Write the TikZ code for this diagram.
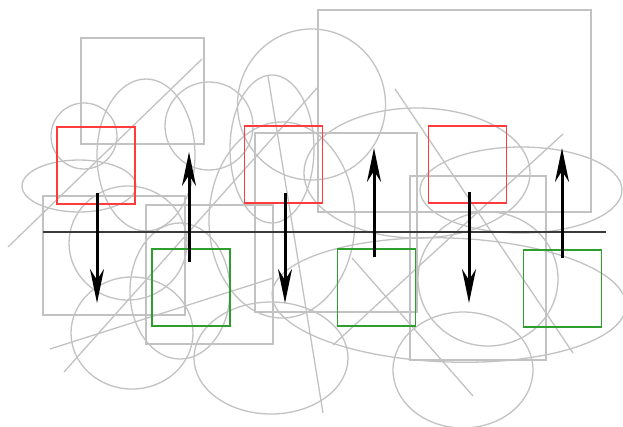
\documentclass[tikz,border=0pt]{standalone}
\usetikzlibrary{arrows.meta}
\definecolor{scribble}{HTML}{C2C2C2}
\definecolor{boxred}{HTML}{FF3B3B}
\definecolor{boxgreen}{HTML}{2E9E2E}
\definecolor{axisgray}{HTML}{3A3A3A}
\begin{document}
\begin{tikzpicture}[x=1pt,y=-1pt,
  bg/.style={draw=scribble, line width=1.3pt},
  topbox/.style={draw=boxred, line width=1.5pt, minimum width=78pt, minimum height=77pt, inner sep=0pt},
  botbox/.style={draw=boxgreen, line width=1.5pt, minimum width=78pt, minimum height=77pt, inner sep=0pt},
  flow/.style={line width=3pt, -{Stealth[length=34pt,width=14pt,inset=11pt]}},
  axisline/.style={draw=axisgray, line width=1.4pt}]
\fill[white] (0,0) rectangle (623,426);
\useasboundingbox (0,0) rectangle (623,426);

% background scribbles: rectangles
\draw[bg] (81,38) rectangle (204,144);
\draw[bg] (318,10) rectangle (591,212);
\draw[bg] (43,196) rectangle (185,315);
\draw[bg] (146,205) rectangle (273,344);
\draw[bg] (255,133) rectangle (417,312);
\draw[bg] (410,176) rectangle (546,360);

% background scribbles: circles and ellipses
\draw[bg] (84,136) circle [radius=33];
\draw[bg] (79,186) ellipse [x radius=57, y radius=26];
\draw[bg] (146,155) ellipse [x radius=49, y radius=76];
\draw[bg] (209,126) circle [radius=44];
\draw[bg] (311.5,104.5) ellipse [x radius=74, y radius=75.5];
\draw[bg] (272,149) ellipse [x radius=42, y radius=74];
\draw[bg] (282,220) ellipse [x radius=73, y radius=98];
\draw[bg] (417,173) ellipse [x radius=113, y radius=65];
\draw[bg] (521,190) ellipse [x radius=101, y radius=43];
\draw[bg] (128,243) ellipse [x radius=59, y radius=57];
\draw[bg] (180,291) ellipse [x radius=50, y radius=68];
\draw[bg] (132,333) ellipse [x radius=61, y radius=56];
\draw[bg] (271,358) ellipse [x radius=77, y radius=56];
\draw[bg, rotate around={-2:(449,300)}] (449,300) ellipse [x radius=177, y radius=62];
\draw[bg] (488,279) ellipse [x radius=70, y radius=67];
\draw[bg] (463,370) ellipse [x radius=70, y radius=58];

% background scribbles: straight strokes
\draw[bg] (8,247) -- (202,59);
\draw[bg] (50,349) -- (273,278);
\draw[bg] (64,372) -- (317,88);
\draw[bg] (268,76) -- (323,413);
\draw[bg] (395,89) -- (573,353);
\draw[bg] (563,134) -- (333,345);
\draw[bg] (352,258) -- (473,396);

% dividing line
\coordinate (axL) at (43,232);
\coordinate (axR) at (606,232);
\draw[axisline] (axL) -- (axR);

% upper (red) and lower (green) boxes
\node[topbox] (r1) at (96,165.5) {};
\node[topbox] (r2) at (283.5,164.5) {};
\node[topbox] (r3) at (467.5,164.5) {};
\node[botbox] (g1) at (191,287.5) {};
\node[botbox] (g2) at (376.5,287.5) {};
\node[botbox] (g3) at (562.5,288.5) {};

% downward arrows
\coordinate (d1s) at (97,193);  \coordinate (d1e) at (97,303);
\coordinate (d2s) at (285,193); \coordinate (d2e) at (285,303);
\coordinate (d3s) at (469,192); \coordinate (d3e) at (469,303);
\draw[flow] (d1s) -- (d1e);
\draw[flow] (d2s) -- (d2e);
\draw[flow] (d3s) -- (d3e);

% upward arrows
\coordinate (u1s) at (189,262); \coordinate (u1e) at (189,152);
\coordinate (u2s) at (374,257); \coordinate (u2e) at (374,148);
\coordinate (u3s) at (562,258); \coordinate (u3e) at (562,148);
\draw[flow] (u1s) -- (u1e);
\draw[flow] (u2s) -- (u2e);
\draw[flow] (u3s) -- (u3e);
\end{tikzpicture}
\end{document}
